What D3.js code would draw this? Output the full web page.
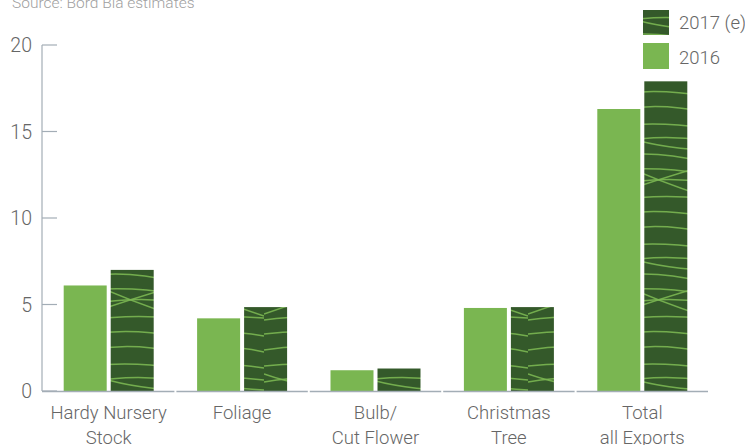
<!DOCTYPE html>
<html><head><meta charset="utf-8">
<script src="https://cdn.jsdelivr.net/npm/d3@7"></script>
<style>
body{margin:0;background:#fff;}
text{font-family:Roboto,"Noto Sans",sans-serif;font-weight:300;}
</style></head>
<body><svg id="c" width="745" height="445"></svg>
<script>
const categories = [["Hardy Nursery","Stock"],["Foliage"],["Bulb/","Cut Flower"],["Christmas","Tree"],["Total","all Exports"]];
const values2016 = [6.1, 4.2, 1.2, 4.8, 16.3];
const values2017 = [7.0, 4.85, 1.3, 4.85, 17.9];
const yTicks = [0, 5, 10, 15, 20];
const seriesNames = ["2017 (e)", "2016"];

(function(){
const svg = d3.select("#c");
const light = "#7ab651", dark = "#34592a", axisCol = "#a3adb6", textCol = "#666";
const pLeft = 42, pRight = 709, pTop = 45, pBottom = 391;

const x = d3.scaleBand().domain(d3.range(categories.length)).range([pLeft, pRight]);
const y = d3.scaleLinear().domain([0, 20]).range([pBottom, pTop]);

const defs = svg.append("defs");
const pat = defs.append("pattern").attr("id","leaf").attr("patternUnits","userSpaceOnUse")
  .attr("width",88).attr("height",120);
pat.append("rect").attr("width",88).attr("height",120).attr("fill",dark);
const curves = [
 "M0,6 Q44,1 88,8","M0,22 Q44,14 88,20","M0,36 Q40,30 88,42","M0,50 Q44,46 88,54",
 "M0,64 Q50,56 88,62","M0,80 Q40,74 88,78","M0,94 Q44,88 88,96","M0,110 Q44,102 88,112",
 "M0,42 Q44,62 88,76","M0,74 Q40,60 88,46","M0,14 Q40,28 88,30"
];
pat.selectAll("path").data(curves).enter().append("path").attr("d",d=>d)
  .attr("fill","none").attr("stroke",light).attr("stroke-width",1.5).attr("opacity",0.9);

svg.append("text").attr("x",12).attr("y",8).attr("font-size",15.5).attr("fill","#a0a0a0").text("Source: Bord Bia estimates");

svg.append("line").attr("x1",pLeft).attr("x2",pLeft).attr("y1",y(20)).attr("y2",pBottom).attr("stroke",axisCol).attr("stroke-width",1.2);
svg.selectAll(".yt").data(yTicks).enter().append("line").attr("x1",pLeft).attr("x2",57)
  .attr("y1",d=>y(d)).attr("y2",d=>y(d)).attr("stroke",axisCol).attr("stroke-width",1.2);
svg.selectAll(".yl").data(yTicks).enter().append("text").attr("x",32).attr("y",d=>y(d)+7)
  .attr("text-anchor","end").attr("font-size",19.5).attr("fill",textCol).text(d=>d);

const bw = 43, gap = 4;
const g = svg.selectAll(".grp").data(categories).enter().append("g");
g.append("rect").attr("x",(d,i)=>x(i)+x.bandwidth()/2-gap/2-bw).attr("width",bw)
  .attr("y",(d,i)=>y(values2016[i])).attr("height",(d,i)=>pBottom-y(values2016[i])).attr("fill",light);
g.append("rect").attr("x",(d,i)=>x(i)+x.bandwidth()/2+gap/2).attr("width",bw)
  .attr("y",(d,i)=>y(values2017[i])).attr("height",(d,i)=>pBottom-y(values2017[i])).attr("fill","url(#leaf)");

svg.selectAll(".xb").data(categories).enter().append("line")
  .attr("x1",(d,i)=>x(i)+(i?1:0)).attr("x2",(d,i)=>x(i)+x.bandwidth()-1)
  .attr("y1",pBottom+0.5).attr("y2",pBottom+0.5).attr("stroke",axisCol).attr("stroke-width",1.5);

g.each(function(d,i){
  const t = d3.select(this).append("text").attr("text-anchor","middle").attr("font-size",18.5).attr("fill",textCol);
  d.forEach((line,k)=>t.append("tspan").attr("x",x(i)+x.bandwidth()/2).attr("y",419+k*25).text(line));
});

const leg = svg.append("g");
leg.append("rect").attr("x",643).attr("y",10).attr("width",26).attr("height",25).attr("fill","url(#leaf)");
leg.append("rect").attr("x",643).attr("y",43).attr("width",26).attr("height",26).attr("fill",light);
leg.selectAll("text").data(seriesNames).enter().append("text").attr("x",679).attr("y",(d,i)=>29+i*35)
  .attr("font-size",18.5).attr("fill",textCol).text(d=>d);
})();
</script></body></html>
